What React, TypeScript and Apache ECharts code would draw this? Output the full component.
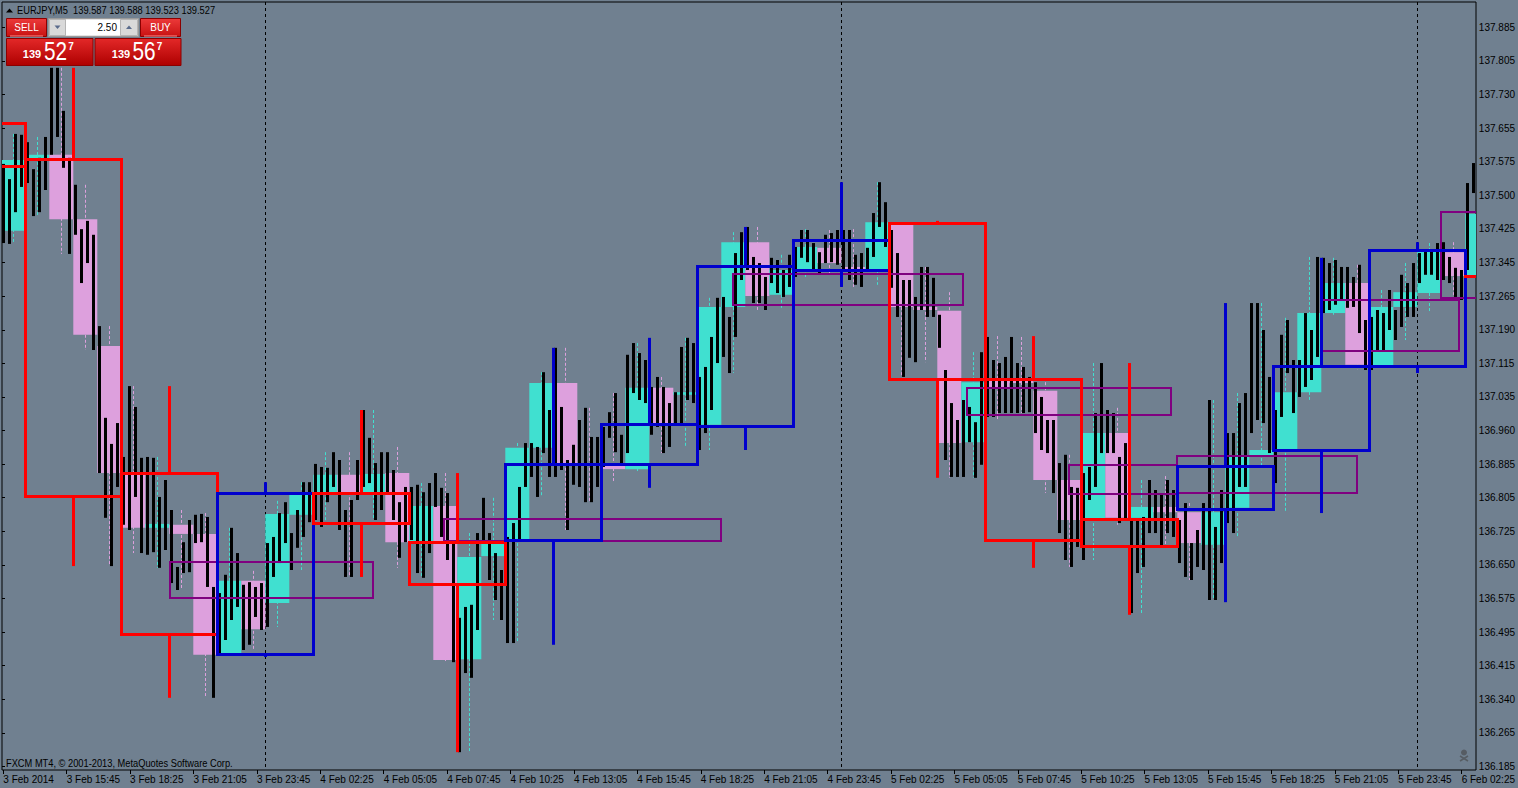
import React, { useEffect, useRef } from "react";
import * as echarts from "echarts";

const FONT = "'Liberation Sans',Arial,sans-serif";

// time axis labels (one every 32 M5 bars) and price axis labels (bottom to top)
const xLabels = ["3 Feb 2014", "3 Feb 15:45", "3 Feb 18:25", "3 Feb 21:05", "3 Feb 23:45", "4 Feb 02:25", "4 Feb 05:05", "4 Feb 07:45", "4 Feb 10:25", "4 Feb 13:05", "4 Feb 15:45", "4 Feb 18:25", "4 Feb 21:05", "4 Feb 23:45", "5 Feb 02:25", "5 Feb 05:05", "5 Feb 07:45", "5 Feb 10:25", "5 Feb 13:05", "5 Feb 15:45", "5 Feb 18:25", "5 Feb 21:05", "5 Feb 23:45", "6 Feb 02:25"];
const yLabels = ["136.185", "136.265", "136.340", "136.415", "136.495", "136.575", "136.650", "136.725", "136.805", "136.885", "136.960", "137.035", "137.115", "137.190", "137.265", "137.345", "137.425", "137.500", "137.575", "137.655", "137.730", "137.805", "137.885"];

// H1 candles, 3 Feb 13:00 ... 6 Feb 02:00
const h1Open = [
  137.417, 137.580, 137.592, 137.444, 137.152, 136.856, 136.734, 136.741, 136.720, 136.442,
  136.612, 136.561, 136.764, 136.814, 136.856, 136.814, 136.860, 136.701, 136.784, 136.432,
  136.669, 136.706, 136.918, 137.067, 136.883, 136.883, 136.869, 137.056, 137.040, 136.971,
  137.242, 137.391, 137.270, 137.327, 137.378, 137.334, 137.327, 137.431, 137.242, 137.233,
  136.931, 137.074, 137.074, 137.049, 136.844, 136.752, 136.952, 136.757, 136.782, 136.770,
  136.695, 136.780, 136.897, 136.913, 137.046, 137.228, 137.297, 137.102, 137.242, 137.274,
  137.368, 137.311,
];
const h1Close = [
  137.580, 137.592, 137.444, 137.178, 136.860, 136.734, 136.743, 136.720, 136.442, 136.612,
  136.501, 136.766, 136.810, 136.856, 136.814, 136.858, 136.701, 136.784, 136.430, 136.667,
  136.699, 136.918, 137.067, 136.883, 136.876, 136.869, 137.056, 136.975, 137.046, 137.242,
  137.391, 137.267, 137.327, 137.380, 137.343, 137.327, 137.437, 137.242, 137.235, 136.929,
  137.069, 137.058, 137.067, 136.844, 136.752, 136.952, 136.757, 136.782, 136.770, 136.699,
  136.770, 136.897, 136.913, 137.046, 137.228, 137.297, 137.109, 137.242, 137.276, 137.373,
  137.313, 137.456,
];
const h1High = [
  137.640, 137.633, 137.792, 137.523, 137.198, 137.060, 136.897, 136.775, 136.768, 136.734,
  136.635, 136.796, 136.839, 136.908, 136.908, 137.005, 136.920, 136.837, 136.860, 136.722,
  136.803, 136.929, 137.092, 137.148, 137.010, 137.044, 137.159, 137.081, 137.171, 137.263,
  137.414, 137.426, 137.362, 137.421, 137.419, 137.421, 137.529, 137.437, 137.334, 137.276,
  137.138, 137.175, 137.173, 137.069, 136.902, 137.113, 137.010, 136.844, 136.853, 136.791,
  137.028, 137.044, 137.251, 137.217, 137.357, 137.355, 137.339, 137.281, 137.343, 137.389,
  137.391, 137.573,
];
const h1Low = [
  137.387, 137.451, 137.364, 137.143, 136.646, 136.676, 136.642, 136.591, 136.343, 136.437,
  136.453, 136.506, 136.637, 136.736, 136.621, 136.752, 136.642, 136.619, 136.425, 136.218,
  136.522, 136.469, 136.805, 136.729, 136.793, 136.837, 136.860, 136.906, 136.920, 136.913,
  137.090, 137.235, 137.240, 137.311, 137.320, 137.288, 137.293, 137.081, 137.115, 136.849,
  136.849, 136.982, 136.998, 136.814, 136.644, 136.660, 136.741, 136.538, 136.690, 136.614,
  136.568, 136.711, 136.874, 136.770, 137.028, 137.224, 137.097, 137.097, 137.166, 137.228,
  137.258, 137.311,
];

// M5 price ranges, one entry per 15 minutes (3 bars)
const m5High = [
  137.571, 137.536, 137.640, 137.638, 137.621, 137.559, 137.585, 137.633,
  137.792, 137.792, 137.693, 137.585, 137.523, 137.421, 137.440, 137.408,
  137.198, 136.987, 136.927, 136.975, 136.897, 137.060, 137.012, 136.895,
  136.897, 136.895, 136.805, 136.844, 136.775, 136.644, 136.701, 136.752,
  136.764, 136.766, 136.759, 136.598, 136.584, 136.626, 136.734, 136.676,
  136.603, 136.609, 136.598, 136.607, 136.699, 136.713, 136.768, 136.793,
  136.722, 136.775, 136.839, 136.839, 136.881, 136.874, 136.872, 136.908,
  136.890, 136.775, 136.798, 136.890, 137.005, 136.941, 136.883, 136.908,
  136.908, 136.867, 136.793, 136.828, 136.828, 136.833, 136.816, 136.837,
  136.860, 136.826, 136.814, 136.701, 136.527, 136.552, 136.557, 136.722,
  136.803, 136.722, 136.676, 136.637, 136.713, 136.745, 136.828, 136.929,
  136.929, 136.920, 137.092, 137.005, 137.148, 137.012, 136.890, 136.925,
  136.982, 137.010, 136.943, 136.943, 136.966, 137.000, 137.044, 136.948,
  137.132, 137.159, 137.136, 137.120, 137.058, 137.081, 137.058, 137.021,
  137.046, 137.150, 137.171, 137.159, 137.081, 137.104, 137.173, 137.263,
  137.265, 137.219, 137.366, 137.414, 137.426, 137.357, 137.343, 137.311,
  137.355, 137.350, 137.327, 137.362, 137.380, 137.419, 137.419, 137.389,
  137.368, 137.408, 137.412, 137.419, 137.419, 137.419, 137.362, 137.366,
  137.378, 137.458, 137.529, 137.483, 137.419, 137.366, 137.304, 137.304,
  137.265, 137.334, 137.334, 137.309, 137.224, 137.097, 137.021, 136.982,
  137.028, 137.012, 136.977, 137.138, 137.173, 137.120, 137.113, 137.127,
  137.173, 137.113, 137.104, 137.081, 137.069, 137.035, 136.982, 136.982,
  136.883, 136.902, 136.828, 136.826, 136.860, 136.874, 136.998, 137.113,
  137.005, 136.998, 136.897, 136.929, 136.752, 136.752, 136.759, 136.844,
  136.821, 136.814, 136.844, 136.821, 136.752, 136.791, 136.699, 136.729,
  136.791, 137.028, 136.736, 136.821, 136.952, 136.952, 137.021, 137.044,
  137.251, 137.251, 137.189, 137.081, 137.005, 137.178, 137.212, 137.120,
  137.120, 137.228, 137.189, 137.357, 137.355, 137.343, 137.350, 137.334,
  137.334, 137.311, 137.339, 137.212, 137.219, 137.235, 137.228, 137.281,
  137.235, 137.316, 137.297, 137.343, 137.366, 137.373, 137.373, 137.389,
  137.391, 137.357, 137.332, 137.327, 137.527, 137.573,
];
const m5Low = [
  137.389, 137.387, 137.460, 137.518, 137.527, 137.451, 137.460, 137.511,
  137.592, 137.633, 137.562, 137.364, 137.408, 137.297, 137.343, 137.143,
  136.860, 136.757, 136.646, 136.828, 136.741, 136.729, 136.805, 136.676,
  136.672, 136.678, 136.642, 136.683, 136.607, 136.591, 136.630, 136.632,
  136.699, 136.701, 136.598, 136.343, 136.442, 136.476, 136.522, 136.552,
  136.453, 136.465, 136.529, 136.499, 136.506, 136.621, 136.653, 136.699,
  136.637, 136.688, 136.713, 136.747, 136.752, 136.736, 136.793, 136.828,
  136.729, 136.621, 136.621, 136.798, 136.828, 136.837, 136.752, 136.775,
  136.814, 136.752, 136.665, 136.701, 136.706, 136.630, 136.619, 136.676,
  136.782, 136.713, 136.660, 136.425, 136.218, 136.400, 136.389, 136.499,
  136.706, 136.614, 136.568, 136.522, 136.469, 136.469, 136.706, 136.828,
  136.851, 136.805, 136.906, 136.851, 136.851, 136.867, 136.729, 136.833,
  136.828, 136.793, 136.793, 136.828, 136.874, 136.941, 136.908, 136.883,
  136.906, 137.044, 137.028, 137.021, 136.948, 136.966, 136.906, 136.920,
  136.975, 136.975, 137.028, 137.021, 136.913, 136.952, 137.005, 137.113,
  137.127, 137.090, 137.173, 137.304, 137.327, 137.251, 137.251, 137.235,
  137.297, 137.274, 137.265, 137.288, 137.311, 137.355, 137.345, 137.327,
  137.320, 137.343, 137.345, 137.339, 137.327, 137.304, 137.293, 137.288,
  137.327, 137.357, 137.426, 137.380, 137.286, 137.219, 137.081, 137.125,
  137.115, 137.235, 137.219, 137.219, 137.148, 136.890, 136.851, 136.851,
  136.851, 136.931, 136.849, 136.879, 136.989, 136.989, 136.998, 136.998,
  136.998, 136.998, 136.998, 137.000, 136.952, 136.913, 136.906, 136.814,
  136.722, 136.660, 136.644, 136.690, 136.660, 136.798, 136.828, 136.906,
  136.906, 136.906, 136.745, 136.752, 136.538, 136.630, 136.644, 136.722,
  136.722, 136.690, 136.722, 136.713, 136.653, 136.621, 136.614, 136.644,
  136.637, 136.568, 136.568, 136.653, 136.745, 136.722, 136.828, 136.828,
  136.952, 136.982, 136.975, 136.906, 136.837, 136.989, 137.090, 136.998,
  137.035, 137.058, 137.074, 137.127, 137.228, 137.235, 137.247, 137.258,
  137.240, 137.242, 137.182, 137.097, 137.097, 137.143, 137.143, 137.189,
  137.166, 137.196, 137.219, 137.219, 137.297, 137.316, 137.316, 137.304,
  137.304, 137.297, 137.265, 137.258, 137.327, 137.504,
];

// H4 candles, 3 Feb 10:00 ... 6 Feb 02:00
const h4Open = [137.663, 137.580, 136.858, 136.442, 136.812, 136.701, 136.704, 136.879, 136.968, 137.325, 137.435, 137.074, 136.752, 136.775, 136.911, 137.104, 137.311];
const h4Close = [137.564, 136.805, 136.488, 136.812, 136.745, 136.603, 136.879, 136.971, 137.336, 137.394, 137.074, 136.704, 136.692, 136.876, 137.106, 137.373, 137.311];
const h4High = [137.695, 137.792, 137.060, 136.839, 137.005, 136.860, 137.148, 137.171, 137.426, 137.529, 137.440, 137.175, 137.113, 137.251, 137.355, 137.391, 137.311];
const h4Low = [137.534, 136.646, 136.343, 136.437, 136.621, 136.218, 136.465, 136.826, 136.913, 137.288, 136.849, 136.642, 136.534, 136.563, 136.768, 137.090, 137.311];

// purple zones (start bar, end bar, top price, bottom price)
const zoneStart = [83.4, 220.4, 364.9, 481.9, 532.9, 586.9, 658.9, 718.9];
const zoneEnd = [184.9, 358.9, 479.9, 583.9, 586.9, 676.9, 727.9, 745];
const zoneTop = [136.655, 136.754, 137.318, 137.056, 136.879, 136.899, 137.258, 137.460];
const zoneBottom = [136.573, 136.704, 137.247, 136.994, 136.812, 136.814, 137.141, 137.263];

// day separators (bar index of midnight)
const daySep = [131, 419, 707];

const BG = "#708090";
const TURQ = "#40E0D0";
const PLUM = "#DDA0DD";
const RED = "#FF0000";
const BLUE = "#0000CD";
const PURPLE = "#800080";

function ln(x1: number, y1: number, x2: number, y2: number, style: any) {
  return { type: "line", shape: { x1, y1, x2, y2 }, style };
}

function boxChildren(xl: number, xr: number, yt: number, yb: number, L: number, R: number, style: any, half: number) {
  const out: any[] = [];
  const a = Math.max(L, xl - half);
  const b = Math.min(R, xr + half);
  if (b > a) {
    out.push(ln(a, yt, b, yt, style));
    out.push(ln(a, yb, b, yb, style));
  }
  if (xl >= L && xl <= R) out.push(ln(xl, yt, xl, yb, style));
  if (xr >= L && xr <= R) out.push(ln(xr, yt, xr, yb, style));
  return out;
}

export default function App() {
  const ref = useRef<HTMLDivElement>(null);
  useEffect(() => {
    const chart = echarts.init(ref.current as HTMLDivElement, null, { renderer: "svg" });
    const grad = (c1: string, c2: string) =>
      new echarts.graphic.LinearGradient(0, 0, 0, 1, [
        { offset: 0, color: c1 },
        { offset: 1, color: c2 },
      ]);

    const sepSeries = {
      type: "custom", xAxisIndex: 0, yAxisIndex: 0, z: 1, silent: true,
      data: daySep.map((b) => [b, 137]),
      renderItem: (params: any, api: any) => {
        const cs = params.coordSys;
        const p = api.coord([api.value(0), api.value(1)]);
        const x = Math.round(p[0]) + 0.5;
        return ln(x, cs.y, x, cs.y + cs.height, { stroke: "#000", lineWidth: 1, lineDash: [3, 3] });
      },
    };

    const wickSeries = {
      type: "custom", xAxisIndex: 0, yAxisIndex: 0, z: 2, silent: true,
      data: h1High.map((h, k) => [k, h, h1Low[k], h1Close[k] > h1Open[k] ? 1 : 0]),
      renderItem: (params: any, api: any) => {
        const cs = params.coordSys;
        const k = api.value(0);
        const a = api.coord([k * 12 + 5, api.value(1)]);
        const b = api.coord([k * 12 + 5, api.value(2)]);
        if (a[0] < cs.x || a[0] > cs.x + cs.width) return null;
        const x = Math.round(a[0]) + 0.5;
        return ln(x, a[1], x, b[1], { stroke: api.value(3) ? TURQ : PLUM, lineWidth: 1, lineDash: [3, 2] });
      },
    };

    const bodySeries = {
      type: "custom", xAxisIndex: 0, yAxisIndex: 0, z: 3, silent: true,
      data: h1Open.map((o, k) => [k, o, h1Close[k]]),
      renderItem: (params: any, api: any) => {
        const cs = params.coordSys;
        const k = api.value(0);
        const o = api.value(1);
        const c = api.value(2);
        const p0 = api.coord([k * 12 - 1, Math.max(o, c)]);
        const p1 = api.coord([k * 12 + 11, Math.min(o, c)]);
        const x0 = Math.max(cs.x, p0[0]);
        const x1 = Math.min(cs.x + cs.width, p1[0]);
        if (x1 <= x0) return null;
        const h = Math.max(1.5, p1[1] - p0[1]);
        return { type: "rect", shape: { x: x0, y: p0[1], width: x1 - x0, height: h }, style: { fill: c > o ? TURQ : PLUM } };
      },
    };

    const m5Series = {
      type: "custom", xAxisIndex: 0, yAxisIndex: 0, z: 4, silent: true,
      data: m5High.map((h, i) => [i, h, m5Low[i]]),
      renderItem: (params: any, api: any) => {
        const i = api.value(0);
        const a = api.coord([i * 3, api.value(1)]);
        const b = api.coord([i * 3, api.value(2)]);
        const x = Math.round(a[0]) + 0.5;
        return ln(x, a[1], x, b[1], { stroke: "#000", lineWidth: 3 });
      },
    };

    const zoneSeries = {
      type: "custom", xAxisIndex: 0, yAxisIndex: 0, z: 5, silent: true,
      data: zoneStart.map((s, i) => [s, zoneTop[i], zoneEnd[i], zoneBottom[i]]),
      renderItem: (params: any, api: any) => {
        const cs = params.coordSys;
        const p0 = api.coord([api.value(0), api.value(1)]);
        const p1 = api.coord([api.value(2), api.value(3)]);
        const st = { stroke: PURPLE, lineWidth: 2 };
        return {
          type: "group",
          children: boxChildren(Math.round(p0[0]), Math.round(p1[0]), Math.round(p0[1]), Math.round(p1[1]), cs.x, cs.x + cs.width, st, 1),
        };
      },
    };

    const h4Series = {
      type: "custom", xAxisIndex: 0, yAxisIndex: 0, z: 6, silent: true,
      data: h4Open.map((o, i) => [i, o, h4Close[i], h4High[i], h4Low[i]]),
      renderItem: (params: any, api: any) => {
        const cs = params.coordSys;
        const L = cs.x;
        const R = cs.x + cs.width;
        const i = api.value(0);
        const o = api.value(1);
        const c = api.value(2);
        const hi = api.value(3);
        const lo = api.value(4);
        const b0 = 48 * (i - 1) + 11;
        const pTL = api.coord([b0, Math.max(o, c)]);
        const pBR = api.coord([b0 + 48, Math.min(o, c)]);
        const pH = api.coord([b0 + 24, hi]);
        const pL = api.coord([b0 + 24, lo]);
        const st = { stroke: c > o ? BLUE : RED, lineWidth: 3 };
        const xl = Math.floor(pTL[0]) + 0.5;
        const xr = Math.floor(pBR[0]) + 0.5;
        const yt = Math.floor(pTL[1]) + 0.5;
        const yb = Math.floor(pBR[1]) + 0.5;
        const children = boxChildren(xl, xr, yt, yb, L, R, st, 1.5);
        const xc = Math.floor(pH[0]) + 0.5;
        if (xc >= L && xc <= R) {
          if (pH[1] < yt - 1) children.push(ln(xc, pH[1], xc, yt, st));
          if (pL[1] > yb + 1) children.push(ln(xc, yb, xc, pL[1], st));
        }
        return { type: "group", children };
      },
    };

    const txt = (x: number, y: number, text: string, font: string, fill: string, align: string, sx = 1) => ({
      type: "text",
      x,
      y,
      scaleX: sx,
      z: 110,
      silent: true,
      style: { text, font, fill, align, textAlign: align, verticalAlign: "middle", textVerticalAlign: "middle" },
    });

    const panel = [
      { type: "polygon", z: 100, shape: { points: [[6, 12.5], [9.5, 8.5], [13, 12.5]] }, style: { fill: "#000" } },
      txt(17, 10.5, "EURJPY,M5  139.587 139.588 139.523 139.527", `10px ${FONT}`, "#000", "left", 0.93),
      // SELL
      { type: "rect", z: 100, shape: { x: 6.5, y: 18.5, width: 40, height: 18 }, style: { fill: grad("#ec3a3a", "#c81212"), stroke: "#8b0000", lineWidth: 1 } },
      { type: "line", z: 101, shape: { x1: 10, y1: 36, x2: 43, y2: 36 }, style: { stroke: "#ff8f8f", lineWidth: 1 } },
      txt(26.5, 27.5, "SELL", `10px ${FONT}`, "#fff", "center"),
      // lot box
      { type: "rect", z: 100, shape: { x: 48.5, y: 18.5, width: 90, height: 18 }, style: { fill: "#c9c9c9", stroke: "#9a9a9a", lineWidth: 1 } },
      { type: "rect", z: 101, shape: { x: 49.5, y: 19.5, width: 16, height: 16 }, style: { fill: "#d9d9d9", stroke: "#b4b4b4", lineWidth: 1 } },
      { type: "polygon", z: 102, shape: { points: [[54.5, 25.5], [60.5, 25.5], [57.5, 29]] }, style: { fill: "#5a6b8c" } },
      { type: "rect", z: 101, shape: { x: 66, y: 19.5, width: 54, height: 16 }, style: { fill: "#fff" } },
      txt(117, 27.8, "2.50", `10px ${FONT}`, "#000", "right"),
      { type: "rect", z: 101, shape: { x: 120.5, y: 19.5, width: 17, height: 16 }, style: { fill: "#d9d9d9", stroke: "#b4b4b4", lineWidth: 1 } },
      { type: "polygon", z: 102, shape: { points: [[126, 29], [132, 29], [129, 25.5]] }, style: { fill: "#5a6b8c" } },
      // BUY
      { type: "rect", z: 100, shape: { x: 140.5, y: 18.5, width: 40, height: 18 }, style: { fill: grad("#ec3a3a", "#c81212"), stroke: "#8b0000", lineWidth: 1 } },
      { type: "line", z: 101, shape: { x1: 144, y1: 36, x2: 177, y2: 36 }, style: { stroke: "#ff8f8f", lineWidth: 1 } },
      txt(160.5, 27.5, "BUY", `10px ${FONT}`, "#fff", "center"),
      // price boxes
      { type: "rect", z: 100, shape: { x: 6.5, y: 38.5, width: 86.5, height: 27 }, style: { fill: grad("#e32828", "#ae0000"), stroke: "#8b0000", lineWidth: 1 } },
      txt(32, 54, "139", `bold 11px ${FONT}`, "#fff", "center"),
      txt(55.5, 51.5, "52", `26px ${FONT}`, "#fff", "center", 0.8),
      txt(71, 46, "7", `bold 10px ${FONT}`, "#fff", "center"),
      { type: "rect", z: 100, shape: { x: 95, y: 38.5, width: 86, height: 27 }, style: { fill: grad("#e32828", "#ae0000"), stroke: "#8b0000", lineWidth: 1 } },
      txt(121, 54, "139", `bold 11px ${FONT}`, "#fff", "center"),
      txt(144, 51.5, "56", `26px ${FONT}`, "#fff", "center", 0.8),
      txt(159.5, 46, "7", `bold 10px ${FONT}`, "#fff", "center"),
      // copyright
      txt(6, 763, "FXCM MT4, \u00a9 2001-2013, MetaQuotes Software Corp.", `10px ${FONT}`, "#000", "left", 0.93),
      // skull icon
      { type: "circle", z: 100, shape: { cx: 1464, cy: 752.5, r: 3 }, style: { fill: "#565c63" } },
      { type: "line", z: 100, shape: { x1: 1460, y1: 756, x2: 1468, y2: 761 }, style: { stroke: "#565c63", lineWidth: 1.5 } },
      { type: "line", z: 100, shape: { x1: 1468, y1: 756, x2: 1460, y2: 761 }, style: { stroke: "#565c63", lineWidth: 1.5 } },
    ];

    const option: any = {
      animation: false,
      backgroundColor: BG,
      grid: [
        { left: 2, top: 2, width: 1474, height: 768, show: true, borderColor: "#000", borderWidth: 1, backgroundColor: "transparent" },
        { left: 3.3, top: 2, width: 1472, height: 768 },
        { left: 2, top: 27.4, width: 1474, height: 739.1 },
      ],
      xAxis: [
        { type: "value", gridIndex: 0, min: -0.65, max: 736.35, show: false },
        {
          type: "value", gridIndex: 1, min: 0, max: 736, interval: 32,
          axisLine: { show: false },
          axisTick: { show: true, length: 4, lineStyle: { color: "#000" } },
          splitLine: { show: false },
          axisLabel: {
            formatter: (v: number) => xLabels[Math.round(v / 32)] ?? "",
            color: "#000", fontSize: 10, fontFamily: FONT, align: "left", margin: 4,
          },
        },
        { type: "value", gridIndex: 2, min: 0, max: 1, show: false },
      ],
      yAxis: [
        { type: "value", gridIndex: 0, min: 136.177, max: 137.9434, show: false },
        { type: "value", gridIndex: 1, min: 0, max: 1, show: false },
        {
          type: "value", gridIndex: 2, position: "right", min: 0, max: 22, interval: 1,
          axisLine: { show: false },
          axisTick: { show: true, length: 3, lineStyle: { color: "#000" } },
          splitLine: { show: false },
          axisLabel: {
            formatter: (v: number) => yLabels[Math.round(v)] ?? "",
            color: "#000", fontSize: 10, fontFamily: FONT, margin: 5,
          },
        },
      ],
      series: [sepSeries, wickSeries, bodySeries, m5Series, zoneSeries, h4Series],
      graphic: panel,
    };
    chart.setOption(option);
    return () => chart.dispose();
  }, []);
  return <div ref={ref} style={{ position: "fixed", left: 0, top: 0, width: 1518, height: 788 }} />;
}
